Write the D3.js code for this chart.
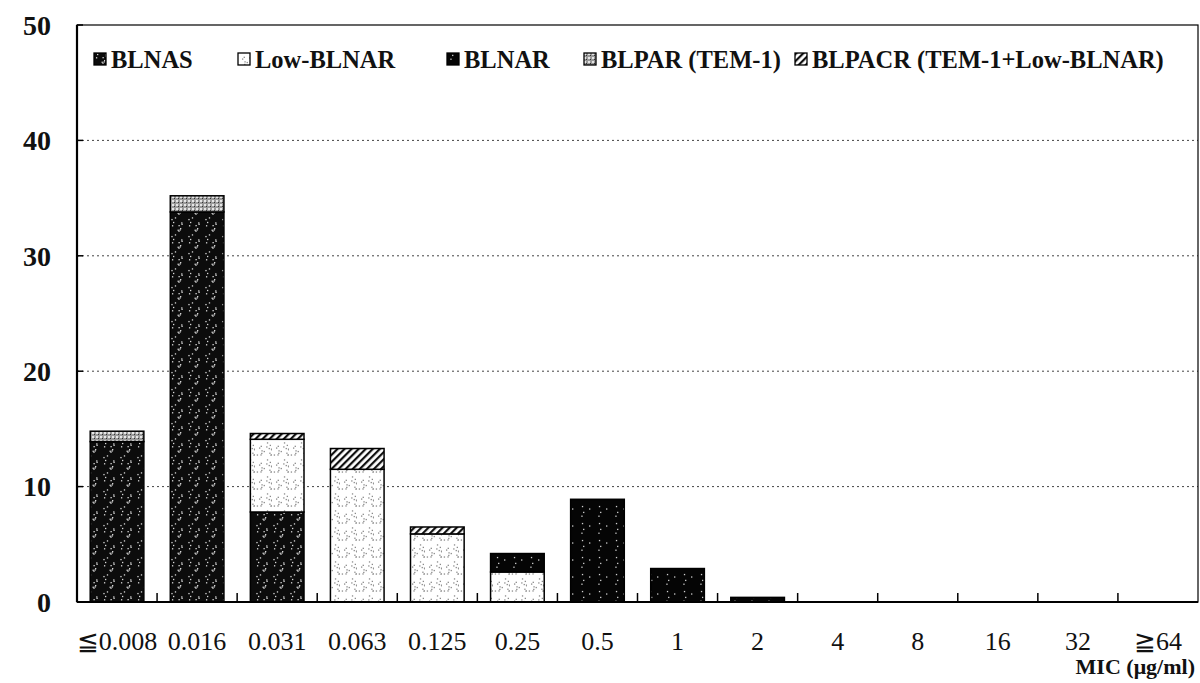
<!DOCTYPE html>
<meta charset="utf-8" />
<script src="https://d3js.org/d3.v7.min.js"></script>
<style>
  body { margin: 0; background: #fff; }
  text { font-family: "Liberation Serif", "Times New Roman", serif; fill: #111; }
</style>
<body>
<div id="chart"></div>
<script>
// MIC categories (x axis)
var categories = ["≦0.008", "0.016", "0.031", "0.063", "0.125", "0.25", "0.5",
                  "1", "2", "4", "8", "16", "32", "≧64"];
// series values (% of strains)
var blnas    = [13.9, 33.8, 7.8, 0,    0,   0,   0,   0,   0,   0, 0, 0, 0, 0];
var lowBlnar = [0,    0,    6.3, 11.5, 5.9, 2.6, 0,   0,   0,   0, 0, 0, 0, 0];
var blnar    = [0,    0,    0,   0,    0,   1.6, 8.9, 2.9, 0.4, 0, 0, 0, 0, 0];
var blpar    = [0.9,  1.4,  0,   0,    0,   0,   0,   0,   0,   0, 0, 0, 0, 0];
var blpacr   = [0,    0,    0.5, 1.8,  0.6, 0,   0,   0,   0,   0, 0, 0, 0, 0];
var seriesNames = ["BLNAS", "Low-BLNAR", "BLNAR", "BLPAR (TEM-1)", "BLPACR (TEM-1+Low-BLNAR)"];
var yTicks = [0, 10, 20, 30, 40, 50];

var width = 1200, height = 683;
var margin = { top: 25, right: 2, bottom: 81, left: 77 };

var svg = d3.select("#chart").append("svg")
  .attr("width", width)
  .attr("height", height);

// fill patterns, a rough imitation of the print textures
var defs = svg.append("defs");
function speckle(id, bg, dot, n, seed) {
  var p = defs.append("pattern").attr("id", id)
    .attr("patternUnits", "userSpaceOnUse").attr("width", 17).attr("height", 17);
  p.append("rect").attr("width", 17).attr("height", 17).attr("fill", bg);
  var s = seed;
  for (var i = 0; i < n; i++) {
    s = (s * 9301 + 49297) % 233280;
    var px = (s / 233280) * 17;
    s = (s * 9301 + 49297) % 233280;
    var py = (s / 233280) * 17;
    p.append("rect").attr("x", px).attr("y", py).attr("width", 1.3).attr("height", 1.3).attr("fill", dot);
  }
}
speckle("pBlnas", "#0c0c0c", "#d8d8d8", 11, 7);
speckle("pLow", "#ffffff", "#8a8a8a", 16, 3);
speckle("pBlnar", "#050505", "#cfcfcf", 4, 11);

var cross = defs.append("pattern").attr("id", "pBlpar")
  .attr("patternUnits", "userSpaceOnUse").attr("width", 4).attr("height", 4);
cross.append("rect").attr("width", 4).attr("height", 4).attr("fill", "#9a9a9a");
cross.append("rect").attr("x", 0).attr("y", 0).attr("width", 2).attr("height", 2).attr("fill", "#e6e6e6");
cross.append("rect").attr("x", 2).attr("y", 2).attr("width", 1).attr("height", 1).attr("fill", "#333");

var hatch = defs.append("pattern").attr("id", "pBlpacr")
  .attr("patternUnits", "userSpaceOnUse").attr("width", 5).attr("height", 5)
  .attr("patternTransform", "rotate(45)");
hatch.append("rect").attr("width", 5).attr("height", 5).attr("fill", "#fff");
hatch.append("rect").attr("width", 2.2).attr("height", 5).attr("fill", "#111");

var fills = ["url(#pBlnas)", "url(#pLow)", "url(#pBlnar)", "url(#pBlpar)", "url(#pBlpacr)"];

// scales
var x = d3.scaleBand()
  .domain(categories)
  .range([margin.left, width - margin.right])
  .paddingInner(0.33)
  .paddingOuter(0.165);

var y = d3.scaleLinear()
  .domain([0, 50])
  .range([height - margin.bottom, margin.top]);

// dotted gridlines
svg.append("g").selectAll("line")
  .data(yTicks.filter(function (d) { return d > 0 && d < 50; }))
  .enter().append("line")
  .attr("x1", margin.left).attr("x2", width - margin.right)
  .attr("y1", function (d) { return y(d); })
  .attr("y2", function (d) { return y(d); })
  .attr("stroke", "#444")
  .attr("stroke-width", 1)
  .attr("stroke-dasharray", "2,3");

// stacked bars
var table = categories.map(function (c, i) {
  return { cat: c, s0: blnas[i], s1: lowBlnar[i], s2: blnar[i], s3: blpar[i], s4: blpacr[i] };
});
var stack = d3.stack().keys(["s0", "s1", "s2", "s3", "s4"]);
var layers = stack(table);

svg.append("g").selectAll("g")
  .data(layers)
  .enter().append("g")
  .attr("fill", function (d, i) { return fills[i]; })
  .selectAll("rect")
  .data(function (d) { return d.filter(function (v) { return v[1] - v[0] > 0; }); })
  .enter().append("rect")
  .attr("x", function (d) { return x(d.data.cat); })
  .attr("width", x.bandwidth())
  .attr("y", function (d) { return y(d[1]); })
  .attr("height", function (d) { return y(d[0]) - y(d[1]); })
  .attr("stroke", "#000")
  .attr("stroke-width", 1.5);

// frame
svg.append("rect")
  .attr("x", margin.left).attr("y", margin.top)
  .attr("width", width - margin.right - margin.left)
  .attr("height", height - margin.bottom - margin.top)
  .attr("fill", "none")
  .attr("stroke", "#000")
  .attr("stroke-width", 1.2);
svg.append("line")
  .attr("x1", margin.left).attr("x2", margin.left)
  .attr("y1", margin.top).attr("y2", y(0))
  .attr("stroke", "#000").attr("stroke-width", 2.2);
svg.append("line")
  .attr("x1", margin.left).attr("x2", width - margin.right)
  .attr("y1", y(0)).attr("y2", y(0))
  .attr("stroke", "#000").attr("stroke-width", 2.2);

// y axis labels + small inward ticks
svg.append("g").selectAll("text")
  .data(yTicks)
  .enter().append("text")
  .attr("x", 51)
  .attr("y", function (d) { return y(d); })
  .attr("dy", "0.35em")
  .attr("text-anchor", "end")
  .attr("font-size", 28)
  .attr("font-weight", "bold")
  .text(function (d) { return d; });
svg.append("g").selectAll("line")
  .data(yTicks)
  .enter().append("line")
  .attr("x1", margin.left).attr("x2", margin.left + 6)
  .attr("y1", function (d) { return y(d); })
  .attr("y2", function (d) { return y(d); })
  .attr("stroke", "#000").attr("stroke-width", 1.5);

// x ticks at band boundaries (pointing up)
var half = (x.step() - x.bandwidth()) / 2;
svg.append("g").selectAll("line")
  .data(categories.slice(1))
  .enter().append("line")
  .attr("x1", function (d) { return x(d) - half; })
  .attr("x2", function (d) { return x(d) - half; })
  .attr("y1", y(0)).attr("y2", y(0) - 9)
  .attr("stroke", "#000").attr("stroke-width", 1.5);

// x labels
svg.append("g").selectAll("text")
  .data(categories)
  .enter().append("text")
  .attr("x", function (d) { return x(d) + x.bandwidth() / 2; })
  .attr("y", 650)
  .attr("text-anchor", "middle")
  .attr("font-size", 26)
  .text(function (d) { return d; });

svg.append("text")
  .attr("x", 1195).attr("y", 674)
  .attr("text-anchor", "end")
  .attr("font-size", 22)
  .attr("font-weight", "bold")
  .text("MIC (μg/ml)");

// legend
var legendX = [94, 238, 447, 584, 795];
var leg = svg.append("g").selectAll("g")
  .data(seriesNames)
  .enter().append("g")
  .attr("transform", function (d, i) { return "translate(" + legendX[i] + ",53)"; });
leg.append("rect")
  .attr("width", 12).attr("height", 12)
  .attr("fill", function (d, i) { return fills[i]; })
  .attr("stroke", "#000").attr("stroke-width", 1.3);
leg.append("text")
  .attr("x", 17).attr("y", 15)
  .attr("font-size", 24.5)
  .attr("font-weight", "bold")
  .text(function (d) { return d; });
</script>
</body>
